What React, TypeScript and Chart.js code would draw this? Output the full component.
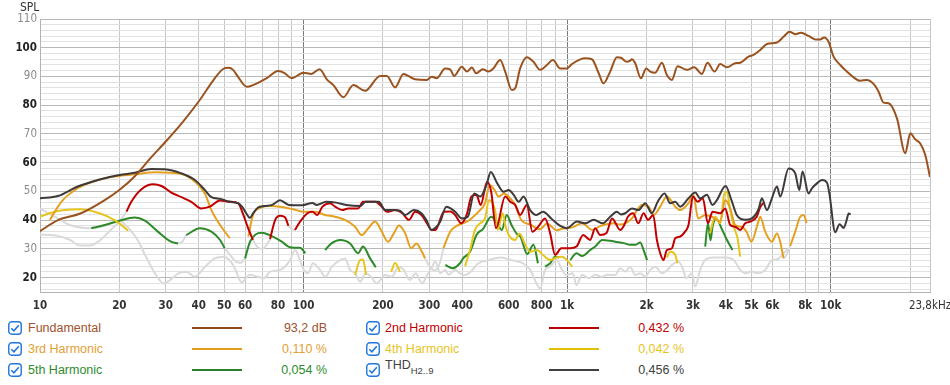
import React, { useEffect, useRef } from "react";
import { Chart, registerables } from "chart.js";

Chart.register(...registerables);

type P = [number, number | null][];

// ---------- data (frequency Hz, level dB) ----------
const FUNDAMENTAL: P = [
  [10, 36.2], [11.7, 40], [14.3, 42.4], [17.6, 47], [20, 50.5], [22.9, 55.3], [26.1, 61.3],
  [30.3, 67.8], [34.9, 74.3], [40.5, 82], [45.3, 88.5], [49.5, 92.6], [52, 93], [54, 92.3], [56.4, 89.9],
  [60.9, 86.4], [64.3, 87], [72.5, 89.4], [80, 91.9], [85, 91.1], [90, 89.4], [99.8, 91.3], [107, 90.9],
  [115, 92.5], [122.5, 89], [129.8, 87], [141.6, 82.8], [154.5, 87], [171.2, 85], [195.2, 90.2], [206.9, 90.2],
  [222.5, 86.2], [239.2, 90.9], [265, 89], [293.5, 88.8], [306.6, 89.9], [320.3, 89.4], [344.4, 92.8],
  [359.8, 92.5], [372.6, 90.2], [398.6, 93.4], [416.4, 91.7], [435, 93.1], [451.6, 91.1], [478.6, 92.5],
  [502.7, 91.7], [525.2, 92.8], [557, 95.7], [581.8, 91.7], [616.9, 85.3], [635, 85.9], [663.2, 92.8],
  [703.2, 96.7], [745, 95.1], [790, 92.3], [838, 94], [883, 95.7], [940.6, 92.8], [997, 92.8], [1042, 94.3],
  [1171, 96.3], [1241, 96], [1315, 91.3], [1373, 87.6], [1456, 91.7], [1544, 96.7], [1600, 96.5], [1685, 95.1],
  [1734, 95.5], [1761, 96], [1812, 94.6], [1905, 89.4], [1995, 92.8], [2065, 91.7], [2158, 91.3], [2288, 94.8],
  [2390, 90.5], [2497, 88.8], [2623, 93.6], [2847, 92.3], [3034, 93.2], [3245, 90.9], [3407, 94.8], [3623, 91.7],
  [3808, 94.3], [4036, 93.2], [4340, 94.6], [4534, 94.8], [4876, 96.9], [5094, 97.5], [5400, 99.2], [5728, 101.3],
  [6250, 101.8], [6620, 103.8], [6977, 105.6], [7333, 104.7], [7708, 105.2], [8237, 104.1], [8735, 102.9],
  [9123, 102.9], [9447, 103.6], [9810, 102.1], [10250, 96.9], [10865, 94], [11518, 91.7], [12205, 89.7],
  [12943, 88.5], [13721, 88.8], [14537, 87.4], [15186, 84.7], [15864, 80.9], [16572, 80.7], [17835, 75.4],
  [19174, 63.3], [20032, 70.2], [20924, 68.1], [21862, 66.7], [22838, 62.7], [23800, 55],
];

const THD: P = [
  [10, 47.6], [11.7, 48.4], [13.9, 51.7], [16.6, 54], [20, 55.7], [22.9, 56.5], [26.4, 57.8], [29.7, 57.7],
  [34.4, 56.3], [38.7, 54], [42.2, 50.5], [44.7, 48], [48.3, 47.4], [52.5, 46.4], [56.4, 45.9], [58.5, 44.6],
  [60.5, 42.5], [62.6, 40.8], [64.5, 42.5], [67, 44.3], [71, 44.9], [76, 45.3], [81.4, 46.9], [88, 45.3],
  [99, 45.2], [108, 46], [112, 45.3], [122, 46.4], [133, 46.1], [145, 45.3], [164, 44.9], [172, 46.4],
  [193, 46.4], [204, 43.5], [217, 43.5], [232, 43.3], [243, 41.8], [262, 43.5], [280, 42.4], [292, 40.1],
  [306, 36.6], [318, 37.5], [330, 39.5], [348, 44.7], [376, 42.9], [399, 40.6], [420, 41.2], [444, 49.3],
  [468, 48.2], [494, 52.2], [513, 56.8], [543, 52.8], [574, 49.9], [600, 50.5], [627, 48.8], [655, 46.4],
  [683, 48.2], [724, 43.5], [764, 41.8], [810, 42.9], [870, 40.6], [941, 38], [997, 37.2], [1090, 39.5],
  [1170, 38.9], [1260, 40.1], [1365, 38.9], [1456, 41.2], [1544, 42.9], [1600, 42], [1661, 42.4], [1761, 44.1],
  [1864, 43.5], [1978, 45.9], [2096, 42.4], [2206, 46.4], [2340, 49.3], [2460, 45.9], [2570, 46.4], [2685, 44.7],
  [2886, 47.6], [3060, 49.6], [3197, 47.6], [3390, 48.8], [3560, 45.3], [3700, 47], [3990, 51.9], [4200, 47],
  [4400, 41.8], [4737, 40.1], [5020, 40.6], [5321, 43.8], [5480, 47.6], [5727, 43.5], [5981, 47.6], [6250, 51.7],
  [6431, 48.2], [6917, 58], [7333, 56.3], [7596, 50.5], [7816, 56.9], [8237, 49.3], [8484, 51.1], [8863, 52.8],
  [9266, 54], [9674, 53.1], [9880, 49.3], [10400, 35.8], [10800, 38.6], [11200, 37.3], [11450, 39.5],
  [11700, 42.3], [11900, 42],
];

const H2: P = [
  [21.3, 43], [22.2, 46.4], [24.2, 50.7], [26.9, 52.5], [28.9, 51.9], [31.5, 49.6], [34.4, 48], [37.5, 46.4],
  [40.9, 44.1], [44.1, 44.7], [48.2, 46.8], [52.5, 46.4], [56.4, 45.9], [59.1, 41.8], [61.6, 37.2], [64.3, 33.1],
  [66, null], [74.6, 33.4], [78, 40], [81.4, 41.5], [85, 41], [87.6, 38], [90, null], [92.8, 36.6], [97, 39.5],
  [103.5, 42.4], [108, 42.9], [112.5, 41.8], [118, 44.7], [126, 45.9], [131.7, 44.7], [140, 43.5], [148, 44.1],
  [161, 44.1], [168, 46.4], [187, 46.4], [198, 44.7], [207, 42.9], [222.5, 43.5], [237, 42.4], [251, 40.1],
  [265, 42.9], [280, 41.8], [294, 38.9], [306, 36.6], [316, 36.6], [341, 42.9], [360, 43], [376, 41.8],
  [396, 38.9], [416, 42], [433, 48.2], [452, 48.8], [470, 45.3], [497, 53.4], [515, 49.9], [537, 37.2],
  [582, 48.2], [608, 46.4], [635, 45.3], [663, 41.8], [703, 45.3], [738, 36], [776, 37.7], [825, 40.6],
  [862, 35.4], [900, 27.9], [950, 30.2], [1027, 30.2], [1085, 30.8], [1150, 34.8], [1223, 33.1], [1277, 37.2],
  [1334, 34.8], [1410, 35.5], [1480, 40.6], [1589, 36.6], [1640, 38], [1700, 41.2], [1780, 42.4], [1860, 38.9],
  [1950, 42.4], [2030, 40.1], [2120, 41.8], [2190, 33.1], [2254, 28.5], [2320, 26.1], [2390, 29.6], [2497, 30.2],
  [2570, 33.7], [2685, 34.3], [2800, 36], [2886, 38.3], [3000, 48.2], [3130, 46.4], [3270, 47.6], [3420, 38.9],
  [3560, 42.9], [3808, 42.4], [3978, 44.1], [4155, 38.3], [4340, 37.7], [4534, 36.6], [4737, 38.9], [4948, 39.5],
  [5240, 41.2], [5400, 44.5], [5560, 46],
];

const H3: P = [
  [10.9, 40.1], [12.05, 46.4], [13.9, 51.1], [16.6, 54], [20, 55.4], [23.5, 56.1], [27.2, 56.7], [31.4, 56.5],
  [35.4, 55.7], [38.7, 53.4], [42.2, 49.3], [44.7, 43.5], [48.2, 38.3], [52.5, 33.7], [56, null], [61.7, 34.3],
  [64.3, 41.8], [69, 44.4], [74.3, 44.9], [81.4, 44.7], [91.5, 43.8], [100.3, 42.9], [110.6, 42.9], [120.7, 41.8],
  [131.7, 41.2], [143.7, 40.1], [156.8, 37.7], [166, 34.8], [176, 37.2], [186.8, 39.5], [198, 36], [209, 32.5],
  [220, 35.4], [230, 38.1], [243, 35.4], [256, 30.2], [268, 31.9], [279, 29.6], [289, 26.7], [310, null],
  [339, 30.2], [360, 36], [376, 37.7], [416, 39.5], [433, 40.6], [467, 43.5], [488, 45.9], [508, 52.2],
  [530, 50.5], [550, 48.2], [576, 49.3], [608, 47.6], [635, 45.3], [670, 40], [724, 38.5], [790, 36.8],
  [838, 38.8], [912, 36.5], [956, 37], [1048, 37.5], [1140, 38.9], [1245, 36.6], [1340, 38], [1500, 38.9],
  [1589, 38.5], [1661, 38.9], [1761, 40.6], [1920, 45.3], [2035, 44.7], [2130, 41.8], [2254, 44.7], [2390, 48.2],
  [2570, 44.7], [2685, 43.5], [2886, 45.9], [3010, 48.8], [3140, 40.6], [3340, 41.8], [3541, 41.2], [3808, 39.5],
  [3978, 47], [4155, 44.1], [4340, 38.3], [4580, 37.7], [4790, 36], [5000, 32.5], [5290, 38.9], [5400, 41.2],
  [5640, 36], [5980, 32.5], [6250, 35.4], [6431, 32.5], [6620, 26.7], [6800, null], [7018, 31], [7333, 36],
  [7660, 41.2], [7900, 41.8], [8100, 39],
];

const H4: P = [
  [10, 41.2], [11.04, 42.6], [12.4, 43.5], [14.3, 43.8], [16.1, 42.9], [18.1, 41.2], [20, 38.9], [21.6, 36.3],
  [25, null], [156.8, 20.9], [163.8, 26.1], [168, 26.3], [172.7, 21], [200, null], [215, 22], [222.5, 25.2],
  [232, 22], [300, null], [410, 24], [428, 29.6], [447, 36.6], [467, 38.9], [488, 40.6], [505, 47], [520, 46],
  [533, 43.5], [545, 36.6], [570, 42.4], [582, 38.3], [605, 34.3], [635, 33.1], [660, 35.4], [690, 31.9],
  [724, 29], [768, 29.6], [810, 27.9], [862, 26.1], [912, 27], [956, 27.3], [1000, 26], [1045, 23.8],
  [1500, null], [2390, 27], [2460, 29], [2570, 28], [2620, 25], [3000, null], [3480, 35.4], [3645, 41.2],
  [3808, 38.9], [3950, 49.3], [4036, 49.9], [4155, 43.5], [4290, 37.7], [4430, 33.7], [4534, 27.3],
];

const H5: P = [
  [15.65, 37.2], [17.6, 38.3], [20, 39.8], [22.9, 40.9], [25, 39.8], [28, 36], [31.4, 32.5], [33.4, 31.9],
  [34.5, null], [35.9, 34.8], [40.4, 37.2], [44.7, 36], [48.2, 33.1], [50.2, 30.2], [55, null], [60, 26.7],
  [62.65, 32.5], [69.4, 35.6], [74.3, 34.8], [82.7, 32.5], [87.6, 30.8], [92, 30.4], [97, 30.4], [101.6, 28.5],
  [110, null], [120.7, 29.6], [127.5, 31.9], [137.6, 33.1], [150.1, 31.9], [161, 28.5], [168, 30.8], [178.8, 26.7],
  [188, 23.6], [250, null], [345, 24.4], [368, 23.3], [392, 25], [403, 26.7], [428, 29], [454, 35], [480, 37],
  [515, 41.2], [540, 39.2], [565, 36.6], [590, 41.8], [615, 38.3], [650, 34.8], [665, 34.3], [705, 28.2],
  [745, 31.4], [775, 25], [800, null], [825, 23.8], [862, 25], [900, 27.3], [930, 27], [980, null], [1027, 26.1],
  [1085, 28.5], [1140, 27.5], [1223, 29.6], [1277, 30.8], [1360, 33.1], [1460, 32.8], [1520, 32.5], [1640, 32],
  [1734, 31.4], [1812, 31.4], [1893, 32.2], [1950, 29.6], [2010, 26.1], [2500, null], [3340, 30.8], [3420, 38.9],
  [3500, 33], [3560, 37.7], [3680, 40.6], [3850, 37.2], [4040, 33.1], [4240, 29.6],
];

const GRAY_LOW: P = [
  [10, 44], [11.7, 40.6], [13, 38.3], [15.5, 37.2], [17.6, 38], [20, 40], [21, 38.5], [22, 36.6], [23.5, 33],
  [25, 28], [27.3, 21.5], [29.5, 18], [31.5, 19.5], [33.5, 21.5], [36, 22], [38.7, 20.3], [42, 23.5], [46, 26.7],
  [50, 27.3], [53, 25.5], [55, 23], [57.4, 19], [58.5, 18.4], [60, 19.5], [62.6, 21], [66, 20.5], [71, 19.8],
  [74.6, 22.1], [81.4, 22.7], [88.9, 26.1], [92.8, 29.6], [96, 27], [100.3, 22.7], [104, 21.5], [108.5, 25],
  [115.5, 22.7], [121, 20.3], [128, 23.8], [137.6, 26.1], [143.7, 26.7], [150, 22.7], [157, 21.5], [164, 18.6],
  [172, 21.5], [182, 19.8], [189, 18], [204, 20.9], [216, 20.3], [229, 23.8], [240, 22.7], [253, 19.2],
  [266, 21.5], [282, 18], [294, 20.9], [306, 23.5], [316, 25.5], [330, 21.5], [344, 22.7], [355, 21], [376, 22.7],
  [392, 21.5], [410, 20.9], [430, 22], [460, 25], [500, 26], [560, 27], [620, 26], [680, 25], [724, 22.7],
  [790, 16.3], [825, 22.7], [862, 23.8], [912, 26.1], [956, 22.7], [995, 20.9], [1050, 21.5], [1085, 17.4],
  [1140, 21], [1210, 19.8], [1277, 21], [1350, 20.3], [1420, 21], [1521, 20.9], [1589, 23.3], [1661, 22.1],
  [1734, 23.8], [1812, 20.9], [1893, 21.5], [1978, 20.3], [2066, 22.7], [2158, 23.8], [2290, 21.5], [2390, 22.5],
  [2497, 24.4], [2640, 25.6], [2750, 23], [2830, 19.8], [2970, 21.5], [3060, 16.9], [3197, 22.7], [3340, 26.1],
  [3600, 27], [4000, 27], [4300, 26], [4534, 22.7], [4737, 21.5], [5000, 22.1], [5300, 21.5], [5641, 22.7],
  [5980, 26.1], [6300, 26.5], [6620, 28.5], [6900, 30],
];

const GRAY_HIGH: P = [
  [10, 35], [11.7, 34.5], [13, 33.1], [14.2, 31.2], [15.5, 31.2], [16.9, 33], [18.5, 36.5], [20, 39.5], [21.3, 43],
];

const GRAY_FILL: P = [
  [33.4, 31.9], [34.6, 32.4], [35.9, 34.8], [40, null], [50.2, 30.2], [53, 27.5], [55.5, 25.5], [58, 25.2],
  [60, 26.7], [62, null], [64.3, 33.1], [67, 30.5], [70, 30], [72.5, 31.5], [74.6, 33.4], [80, null], [87.6, 38],
  [90, 37], [92.8, 36.6], [150, null], [289, 26.7], [300, 24], [315, 22.5], [330, 25.5], [339, 30.2], [1000, null],
  [6620, 26.7], [6800, 28], [7018, 31],
];

// ---------- axes ----------
const X_GRID = [
  10, 20, 30, 40, 50, 60, 70, 80, 90, 100, 200, 300, 400, 500, 600, 700, 800, 900,
  1000, 2000, 3000, 4000, 5000, 6000, 7000, 8000, 9000, 10000, 20000, 23800,
];
const X_LABELS: Record<number, string> = {
  10: "10", 20: "20", 30: "30", 40: "40", 50: "50", 60: "60", 80: "80", 100: "100", 200: "200", 300: "300",
  400: "400", 600: "600", 800: "800", 1000: "1k", 2000: "2k", 3000: "3k", 4000: "4k", 5000: "5k", 6000: "6k",
  8000: "8k", 10000: "10k", 23800: "23,8kHz",
};
const X_MIN = 10;
const X_MAX = 23800;
const Y_MIN = 15;
const Y_MAX = 110;
const Y_STEP = 2;

// ---------- legend ----------
const LEGEND_NAMES = ["Fundamental", "2nd Harmonic", "3rd Harmonic", "4th Harmonic", "5th Harmonic", "THD"];
const LEGEND_VALUES = ["93,2 dB", "0,432 %", "0,110 %", "0,042 %", "0,054 %", "0,456 %"];
const TEXT_COLORS = ["#a0522d", "#c00000", "#e3a032", "#e6c41e", "#2e8b2e", "#404040"];
const LINE_COLORS = ["#8e4a1c", "#b80000", "#e39b1b", "#e2c000", "#2a7f2a", "#404040"];

const TICK_FONT = '"Liberation Sans Narrow", "DejaVu Sans Condensed", "Liberation Sans", sans-serif';
const UI_FONT = '"Liberation Sans", Arial, sans-serif';

const toData = (p: P) => p.map(([x, y]) => ({ x, y }));

const splPlugin = {
  id: "splTitle",
  afterDraw(chart: any) {
    const ctx = chart.ctx;
    ctx.save();
    ctx.font = `12px ${TICK_FONT}`;
    ctx.fillStyle = "#333";
    ctx.textBaseline = "middle";
    ctx.textAlign = "left";
    ctx.fillText("SPL", 20, 8);
    ctx.restore();
  },
};

function CheckBox({ x, y }: { x: number; y: number }) {
  return (
    <svg width={14} height={14} viewBox="0 0 14 14" style={{ position: "absolute", left: x, top: y }}>
      <rect x={0.75} y={0.75} width={12.5} height={12.5} rx={3} fill="#fff" stroke="#2277dd" strokeWidth={1.4} />
      <path d="M3.3 7.2 L5.9 9.8 L10.8 4.2" fill="none" stroke="#2277dd" strokeWidth={1.6} />
    </svg>
  );
}

export default function App() {
  const ref = useRef<HTMLCanvasElement>(null);

  useEffect(() => {
    const mk = (label: string, p: P, color: string, order: number, width = 2) => ({
      label,
      data: toData(p),
      borderColor: color,
      backgroundColor: color,
      borderWidth: width,
      pointRadius: 0,
      fill: false,
      spanGaps: false,
      cubicInterpolationMode: "monotone" as const,
      order,
    });

    const chart = new Chart(ref.current as HTMLCanvasElement, {
      type: "line",
      data: {
        datasets: [
          mk("Fundamental", FUNDAMENTAL, "#9a531f", 0),
          mk("THD", THD, "#3f3a3a", 1),
          mk("2nd Harmonic", H2, "#c00000", 2),
          mk("3rd Harmonic", H3, "#e6a020", 3),
          mk("4th Harmonic", H4, "#e6c61c", 4),
          mk("5th Harmonic", H5, "#2c8a28", 5),
          mk("gray1", GRAY_LOW, "#dadada", 6),
          mk("gray2", GRAY_HIGH, "#dadada", 7),
          mk("gray3", GRAY_FILL, "#dadada", 8),
        ] as any,
      },
      options: {
        animation: false,
        responsive: false,
        devicePixelRatio: 1,
        layout: { padding: { left: 0, right: 20, top: 19, bottom: 0 } },
        plugins: { legend: { display: false }, tooltip: { enabled: false } },
        scales: {
          x: {
            type: "logarithmic",
            min: X_MIN,
            max: X_MAX,
            afterBuildTicks: (scale: any) => {
              scale.ticks = X_GRID.map((v) => ({ value: v }));
            },
            afterFit: (scale: any) => {
              scale.height = 20;
              scale.paddingLeft = 0;
              scale.paddingRight = 0;
            },
            grid: {
              drawTicks: false,
              color: (ctx: any) => {
                const v = ctx.tick ? ctx.tick.value : 0;
                if (v === 100 || v === 1000 || v === 10000) return "#7c7c7c";
                return "#c6c6c6";
              },
              lineWidth: 1,
            },
            border: { display: true, color: "#b4b4b4" },
            ticks: {
              autoSkip: false,
              maxRotation: 0,
              minRotation: 0,
              padding: 7,
              color: "#333",
              font: (ctx: any) => ({
                family: TICK_FONT,
                size: 11.5,
                weight: ctx.tick && ctx.tick.value === 23800 ? "normal" : "bold",
              }),
              callback: (v: any) => X_LABELS[Number(v)] ?? "",
            },
          },
          y: {
            type: "linear",
            min: Y_MIN,
            max: Y_MAX,
            afterBuildTicks: (scale: any) => {
              const t: { value: number }[] = [];
              for (let v = 16; v <= Y_MAX; v += Y_STEP) t.push({ value: v });
              scale.ticks = t;
            },
            afterFit: (scale: any) => {
              scale.width = 40;
              scale.paddingTop = 0;
              scale.paddingBottom = 0;
            },
            grid: {
              drawTicks: false,
              color: (ctx: any) => {
                const v = ctx.tick ? ctx.tick.value : 0;
                return v % 10 === 0 ? "#b8b8b8" : "#e2e2e2";
              },
            },
            border: { display: true, color: "#b4b4b4" },
            ticks: {
              autoSkip: false,
              padding: 3,
              color: (ctx: any) => (ctx.tick && ctx.tick.value % 20 === 0 ? "#222" : "#8a8a8a"),
              font: (ctx: any) => ({
                family: TICK_FONT,
                size: 11.5,
                weight: ctx.tick && ctx.tick.value % 20 === 0 ? "bold" : "normal",
              }),
              callback: (v: any) => (Number(v) % 10 === 0 ? String(v) : ""),
            },
          },
        },
      } as any,
      plugins: [splPlugin],
    });
    return () => chart.destroy();
  }, []);

  // legend layout: column 0 = left block, column 1 = right block
  const order = [0, 2, 4, 1, 3, 5];
  const rowsY = [327.5, 348.5, 369.5];
  const colX = [
    { box: 8, text: 28, lineL: 192, lineR: 242, valR: 327 },
    { box: 366, text: 385, lineL: 549, lineR: 599, valR: 684 },
  ];

  return (
    <div
      style={{
        position: "fixed",
        left: 0,
        top: 0,
        width: 950,
        height: 385,
        background: "#fff",
        overflow: "hidden",
        fontFamily: UI_FONT,
      }}
    >
      <canvas ref={ref} width={950} height={312} style={{ position: "absolute", left: 0, top: 0 }} />
      {order.map((idx, k) => {
        const col = colX[k < 3 ? 0 : 1];
        const cy = rowsY[k % 3];
        const isThd = idx === 5;
        return (
          <React.Fragment key={idx}>
            <CheckBox x={col.box} y={cy - 7} />
            <div
              style={{
                position: "absolute",
                left: col.text,
                top: cy - (isThd ? 13 : 8),
                fontSize: 12.5,
                lineHeight: "16px",
                color: TEXT_COLORS[idx],
                whiteSpace: "nowrap",
              }}
            >
              {isThd ? (
                <span>
                  THD<sub style={{ fontSize: 9.5, verticalAlign: -5 }}>H2..9</sub>
                </span>
              ) : (
                LEGEND_NAMES[idx]
              )}
            </div>
            <div
              style={{
                position: "absolute",
                left: col.lineL,
                top: cy - 1,
                width: col.lineR - col.lineL,
                height: 2,
                background: LINE_COLORS[idx],
              }}
            />
            <div
              style={{
                position: "absolute",
                left: col.valR - 120,
                width: 120,
                top: cy - 8,
                fontSize: 12.5,
                lineHeight: "16px",
                textAlign: "right",
                color: TEXT_COLORS[idx],
                whiteSpace: "nowrap",
              }}
            >
              {LEGEND_VALUES[idx]}
            </div>
          </React.Fragment>
        );
      })}
    </div>
  );
}
